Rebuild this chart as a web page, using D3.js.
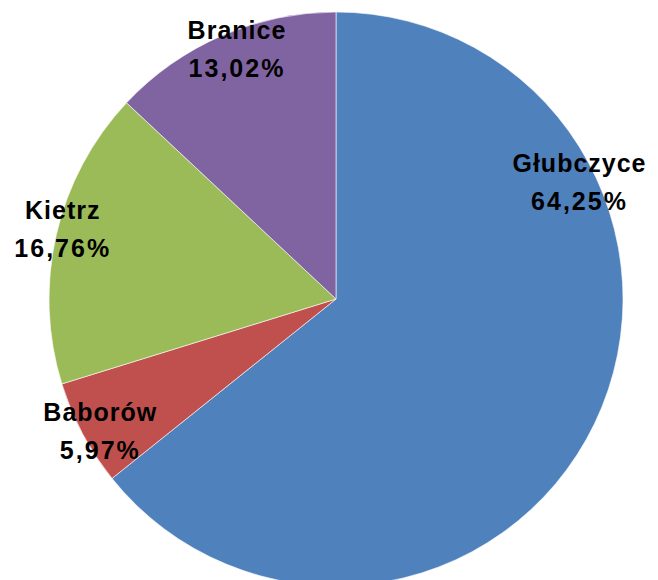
<!DOCTYPE html>
<html>
<head>
<meta charset="utf-8">
<script src="https://cdn.jsdelivr.net/npm/d3@7/dist/d3.min.js"></script>
<style>
  html, body { margin: 0; padding: 0; background: #fff; }
  svg { display: block; }
</style>
</head>
<body>
<svg id="chart" width="658" height="580"></svg>
<script>
const categories = ["Głubczyce", "Baborów", "Kietrz", "Branice"];
const values = [64.25, 5.97, 16.76, 13.02];
const labelsPct = ["64,25%", "5,97%", "16,76%", "13,02%"];
const colors = ["#4F81BD", "#C0504D", "#9BBB59", "#8064A2"];

const width = 658, height = 580;
const cx = 336, cy = 299, R = 287;
// label placement (Excel "best fit"): polar angle in degrees from 12 o'clock clockwise, radius
const labelAngles = [64.4, 240.8, 284.3, 338.4];
const labelRadii = [270, 270, 282, 269];

const svg = d3.select("#chart");
const g = svg.append("g").attr("transform", `translate(${cx},${cy})`);

const data = categories.map((c, i) => ({name: c, value: values[i], pct: labelsPct[i], color: colors[i], i}));

const pie = d3.pie().value(d => d.value).sort(null);
const arcs = pie(data);
const arc = d3.arc().innerRadius(0).outerRadius(R);

g.selectAll("path.slice")
  .data(arcs)
  .join("path")
  .attr("class", "slice")
  .attr("d", arc)
  .attr("fill", d => d.data.color)
  .attr("stroke", "#ffffff")
  .attr("stroke-width", 0.6);

const labels = g.selectAll("g.lbl")
  .data(arcs)
  .join("g")
  .attr("class", "lbl")
  .attr("transform", d => {
    const a = labelAngles[d.data.i] * Math.PI / 180;
    const r = labelRadii[d.data.i];
    return `translate(${r * Math.sin(a)},${-r * Math.cos(a)})`;
  });

labels.append("text")
  .attr("text-anchor", "middle")
  .attr("dominant-baseline", "central")
  .attr("y", -19)
  .style("font-family", "'Liberation Sans', Arial, sans-serif")
  .style("font-weight", "bold")
  .style("font-size", "25px")
  .style("letter-spacing", "1px")
  .attr("fill", "#000")
  .text(d => d.data.name);

labels.append("text")
  .attr("text-anchor", "middle")
  .attr("dominant-baseline", "central")
  .attr("y", 19)
  .style("font-family", "'Liberation Sans', Arial, sans-serif")
  .style("font-weight", "bold")
  .style("font-size", "25px")
  .style("letter-spacing", "2px")
  .attr("fill", "#000")
  .text(d => d.data.pct);
</script>
</body>
</html>
